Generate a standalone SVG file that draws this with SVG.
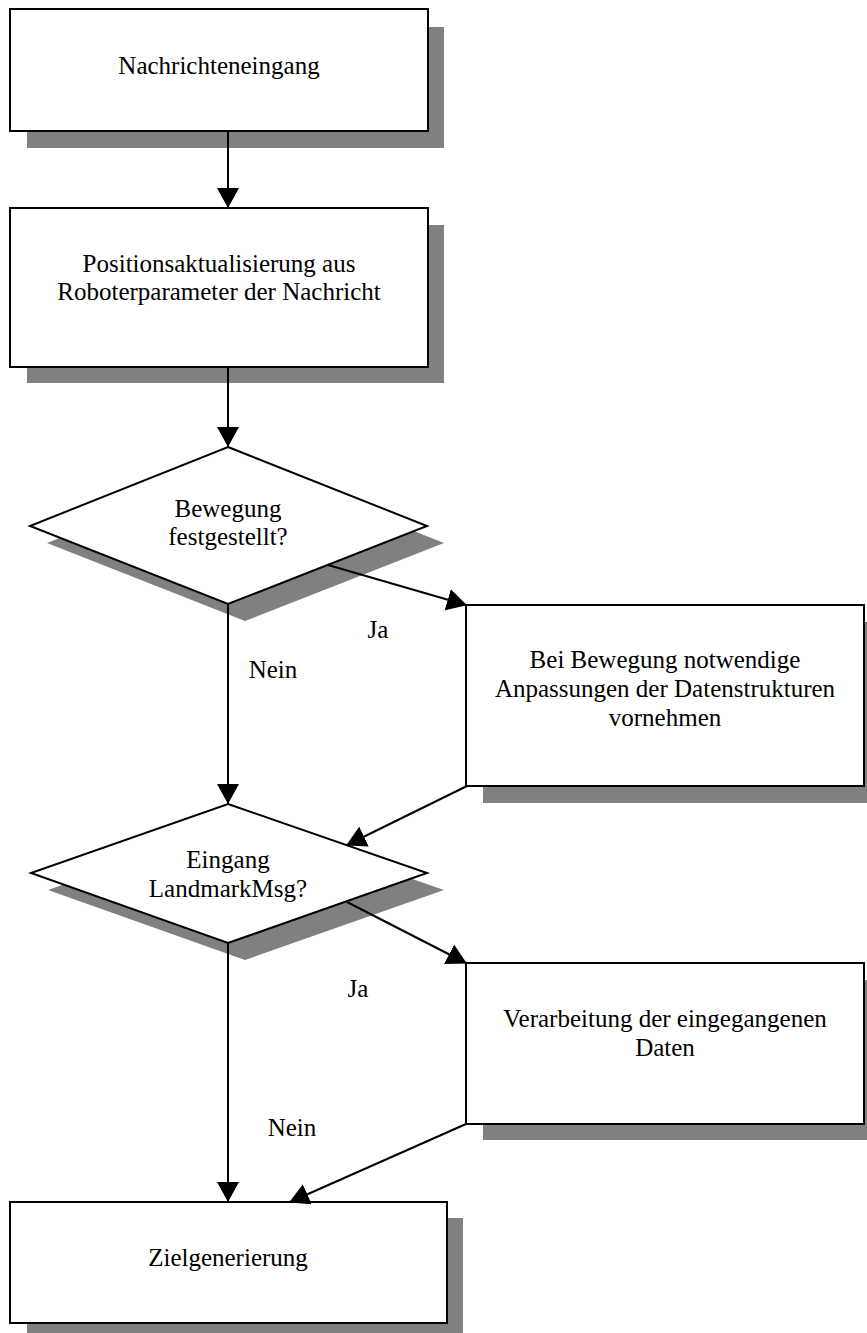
<svg xmlns="http://www.w3.org/2000/svg" width="867" height="1333" viewBox="0 0 867 1333">
<style>
.shadow{fill:#808080;stroke:none}
.shape{fill:#ffffff;stroke:#000000;stroke-width:2}
.t{font-family:"Liberation Serif","Times New Roman",serif;font-size:25px;fill:#000000;text-anchor:middle}
.c{fill:none;stroke:#000000;stroke-width:2}
</style>
<defs>
<marker id="ah" viewBox="0 0 20 22" refX="19" refY="11" markerWidth="20" markerHeight="22" markerUnits="userSpaceOnUse" orient="auto">
<path d="M0,0 L20,11 L0,22 z" fill="#000000"/>
</marker>
</defs>
<rect x="0" y="0" width="867" height="1333" fill="#ffffff"/>

<g id="node-nachrichteneingang">
<rect class="shadow" x="27" y="27" width="417" height="121"/>
<rect class="shape" x="10" y="9" width="418" height="122"/>
<text class="t" x="219" y="74">Nachrichteneingang</text>
</g>

<g id="node-positionsaktualisierung">
<rect class="shadow" x="27" y="225" width="417" height="158"/>
<rect class="shape" x="10" y="208" width="418" height="159"/>
<text class="t" x="219" y="272">Positionsaktualisierung aus</text>
<text class="t" x="219" y="300">Roboterparameter der Nachricht</text>
</g>

<g id="node-bewegung">
<polygon class="shadow" points="245,464 444,543 245,621 47,543"/>
<polygon class="shape" points="228,447 427,526 228,604 30,526"/>
<text class="t" x="228" y="517">Bewegung</text>
<text class="t" x="228" y="545">festgestellt?</text>
</g>

<g id="node-anpassungen">
<rect class="shadow" x="483" y="622" width="398" height="181"/>
<rect class="shape" x="466" y="605" width="398" height="181"/>
<text class="t" x="665" y="668">Bei Bewegung notwendige</text>
<text class="t" x="665" y="697">Anpassungen der Datenstrukturen</text>
<text class="t" x="665" y="726">vornehmen</text>
</g>

<g id="node-landmark">
<polygon class="shadow" points="245,821 444,890 245,960 48,890"/>
<polygon class="shape" points="228,804 427,873 228,943 31,873"/>
<text class="t" x="228" y="868">Eingang</text>
<text class="t" x="228" y="897">LandmarkMsg?</text>
</g>

<g id="node-verarbeitung">
<rect class="shadow" x="483" y="980" width="398" height="160"/>
<rect class="shape" x="466" y="963" width="398" height="161"/>
<text class="t" x="665" y="1027">Verarbeitung der eingegangenen</text>
<text class="t" x="665" y="1056">Daten</text>
</g>

<g id="node-zielgenerierung">
<rect class="shadow" x="27" y="1218" width="436" height="115"/>
<rect class="shape" x="10" y="1202" width="437" height="121"/>
<text class="t" x="228" y="1266">Zielgenerierung</text>
</g>

<g id="connectors">
<line class="c" x1="228" y1="131" x2="228" y2="207" marker-end="url(#ah)"/>
<line class="c" x1="228" y1="367" x2="228" y2="446" marker-end="url(#ah)"/>
<line class="c" x1="328" y1="565" x2="466" y2="605" marker-end="url(#ah)"/>
<line class="c" x1="228" y1="604" x2="228" y2="803" marker-end="url(#ah)"/>
<line class="c" x1="467" y1="786" x2="347" y2="845" marker-end="url(#ah)"/>
<line class="c" x1="347" y1="902" x2="466" y2="963" marker-end="url(#ah)"/>
<line class="c" x1="228" y1="943" x2="228" y2="1201" marker-end="url(#ah)"/>
<line class="c" x1="466" y1="1124" x2="290" y2="1202" marker-end="url(#ah)"/>
<text class="t" x="378" y="638">Ja</text>
<text class="t" x="273" y="678">Nein</text>
<text class="t" x="358" y="997">Ja</text>
<text class="t" x="292" y="1136">Nein</text>
</g>
</svg>
